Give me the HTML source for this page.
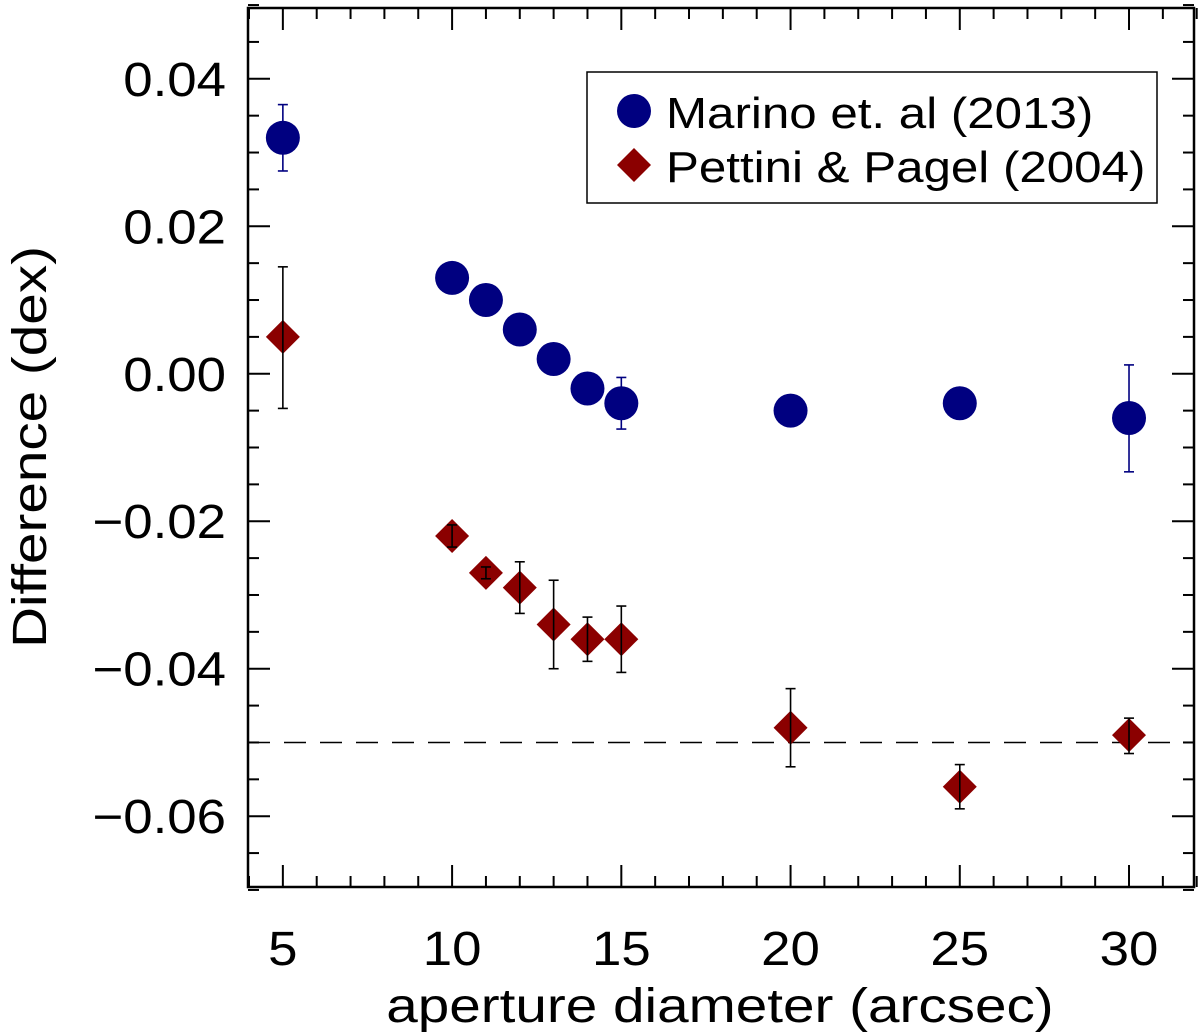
<!DOCTYPE html>
<html><head><meta charset="utf-8">
<style>
html,body{margin:0;padding:0;background:#fff;}
svg{display:block;font-family:"Liberation Sans",sans-serif;}
</style></head>
<body>
<svg id="chart" width="1200" height="1035" viewBox="0 0 1200 1035"></svg>
<script>
const apertures = [5,10,11,12,13,14,15,20,25,30];
const marino = [0.032,0.013,0.010,0.006,0.002,-0.002,-0.004,-0.005,-0.004,-0.006];
const marinoLo = [0.0275,null,null,null,null,null,-0.0075,null,null,-0.0133];
const marinoHi = [0.0365,null,null,null,null,null,-0.0005,null,null,0.0012];
const pp = [0.005,-0.022,-0.027,-0.029,-0.034,-0.036,-0.036,-0.048,-0.056,-0.049];
const ppLo = [-0.0047,-0.0235,-0.0278,-0.0325,-0.040,-0.039,-0.0405,-0.0533,-0.059,-0.0515];
const ppHi = [0.0145,-0.0205,-0.0262,-0.0255,-0.028,-0.033,-0.0315,-0.0427,-0.053,-0.0467];
const xTicks = [5,10,15,20,25,30];
const yTicks = [0.04,0.02,0.00,-0.02,-0.04,-0.06];
const yTickLabels = ["0.04","0.02","0.00","\u22120.02","\u22120.04","\u22120.06"];
const refLine = -0.05;

const L=248,R=1194,T=8,B=887;
const xmin=3.97,xmax=31.92,ymin=-0.0696,ymax=0.0496;
const X=v=>L+(v-xmin)/(xmax-xmin)*(R-L);
const Y=v=>T+(ymax-v)/(ymax-ymin)*(B-T);
const svg=document.getElementById('chart');
const NS='http://www.w3.org/2000/svg';
function mk(tag,attrs,parent){const e=document.createElementNS(NS,tag);for(const k in attrs)e.setAttribute(k,attrs[k]);(parent||svg).appendChild(e);return e;}
function stretch(t,f){const w=t.getComputedTextLength();t.setAttribute('textLength',w*f);t.setAttribute('lengthAdjust','spacingAndGlyphs');}

const frame=mk('rect',{x:L,y:T,width:R-L,height:B-T,fill:'none',stroke:'#000','stroke-width':2.5});



for(let v=4;v<=32;v++){
  const major=v%5===0;const len=major?22:11;const x=X(v);
  mk('line',{x1:x,y1:B,x2:x,y2:B-len,stroke:'#000','stroke-width':2});
  mk('line',{x1:x,y1:T,x2:x,y2:T+len,stroke:'#000','stroke-width':2});
}
xTicks.forEach(v=>{
  const t=mk('text',{x:X(v),y:965,'text-anchor':'middle','font-size':48});
  t.textContent=v;
  
  
  stretch(t,1.1);
});
for(let i=-14;i<=10;i++){
  const v=i*0.005;const major=i%4===0;const len=major?22:11;const y=Y(v);
  mk('line',{x1:L,y1:y,x2:L+len,y2:y,stroke:'#000','stroke-width':2});
  mk('line',{x1:R,y1:y,x2:R-len,y2:y,stroke:'#000','stroke-width':2});
}
yTicks.forEach((v,i)=>{
  const t=mk('text',{x:L-22,y:Y(v)+17,'text-anchor':'end','font-size':48});
  t.textContent=yTickLabels[i];
  
  
  stretch(t,1.1);
});
const xt=mk('text',{x:(L+R)/2-1,y:1022,'text-anchor':'middle','font-size':48});
xt.textContent='aperture diameter (arcsec)';


stretch(xt,1.18);
const yt=mk('text',{x:0,y:0,'text-anchor':'middle','font-size':48,transform:`translate(46,447) rotate(-90)`});
yt.textContent='Difference (dex)';


stretch(yt,1.18);

const rl=mk('line',{x1:L,y1:Y(refLine),x2:R,y2:Y(refLine),stroke:'#000','stroke-width':1.5,'stroke-dasharray':'22,14'});



function errbar(x,lo,hi,color){
  const g=mk('g',{stroke:color,'stroke-width':1.6});
  mk('line',{x1:x,y1:Y(lo),x2:x,y2:Y(hi)},g);
  mk('line',{x1:x-5,y1:Y(lo),x2:x+5,y2:Y(lo)},g);
  mk('line',{x1:x-5,y1:Y(hi),x2:x+5,y2:Y(hi)},g);
  
  
}
const blue='#000080',red='#8b0000';
apertures.forEach((a,i)=>{
  const c=mk('circle',{cx:X(a),cy:Y(marino[i]),r:17,fill:blue});
  
  
  if(marinoLo[i]!==null) errbar(X(a),marinoLo[i],marinoHi[i],blue);
});
apertures.forEach((a,i)=>{
  const x=X(a),y=Y(pp[i]),s=17;
  const d=mk('polygon',{points:`${x},${y-s} ${x+s},${y} ${x},${y+s} ${x-s},${y}`,fill:red});
  
  
  errbar(x,ppLo[i],ppHi[i],'#000');
});

const lg=mk('g',{});


mk('rect',{x:587,y:72,width:570,height:131,fill:'#fff',stroke:'#000','stroke-width':1.5},lg);
mk('circle',{cx:634,cy:111,r:17,fill:blue},lg);
mk('polygon',{points:'634,148 651,165 634,182 617,165',fill:red},lg);
const l1=mk('text',{x:666,y:128,'font-size':44},lg);l1.textContent='Marino et. al (2013)';


stretch(l1,1.12);
const l2=mk('text',{x:666,y:182,'font-size':44},lg);l2.textContent='Pettini & Pagel (2004)';


stretch(l2,1.12);
</script>
</body></html>
